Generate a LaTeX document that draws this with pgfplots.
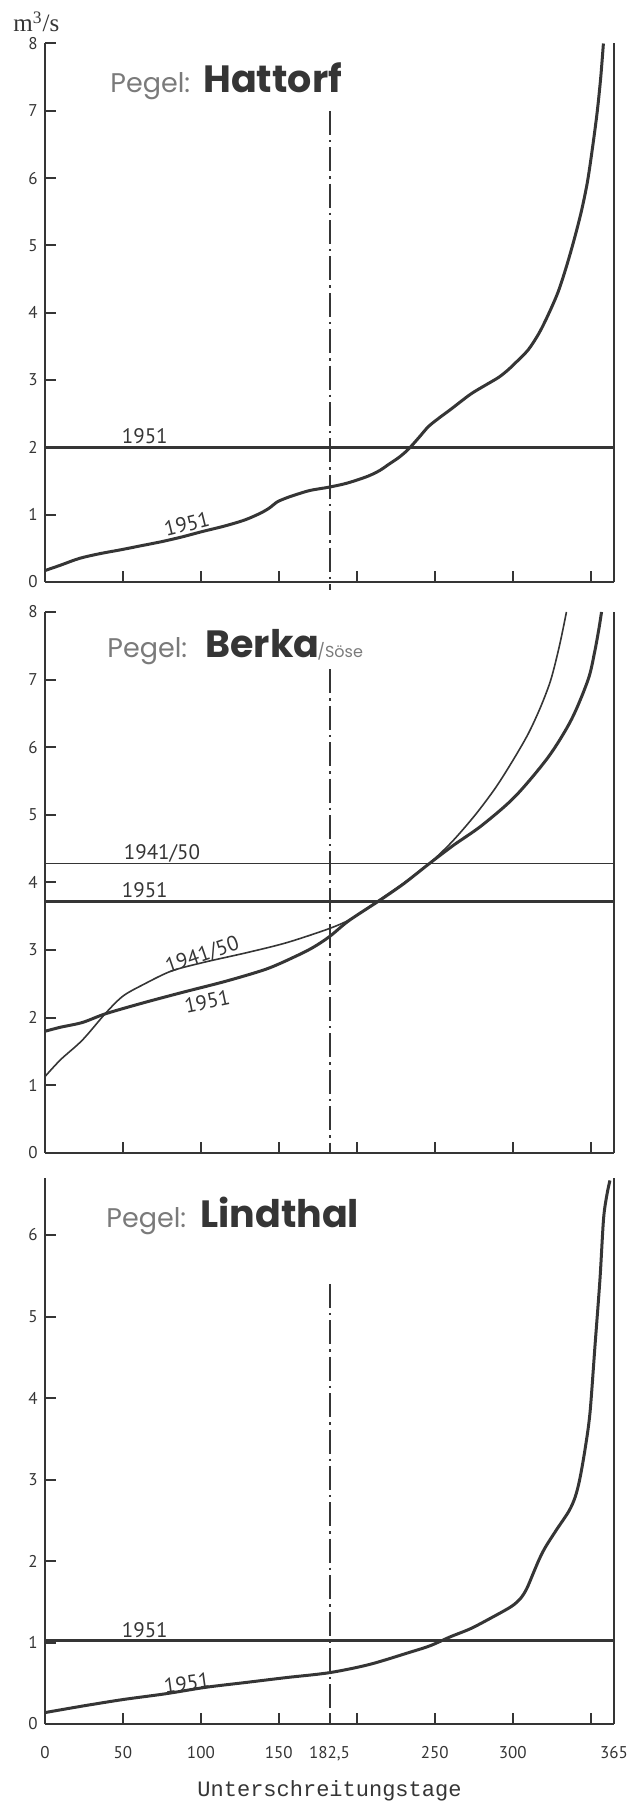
\documentclass[border=0pt]{standalone}
\usepackage{fontspec}
\setmainfont{PT Sans}
\newfontfamily\titlefont{Poppins}
\newfontfamily\letterfont{Liberation Mono}
\newfontfamily\unitfont{Liberation Serif}
\usepackage{pgfplots}
\pgfplotsset{compat=1.18}

\definecolor{ink}{HTML}{353535}
\definecolor{titlegray}{HTML}{7A7A7A}

\tikzset{
  thick curve/.style={ink, line width=1.5pt, smooth, tension=0.5},
  thin curve/.style={ink, line width=0.8pt, smooth, tension=0.5},
  level/.style={ink, line width=1.5pt},
  thin level/.style={ink, line width=0.8pt},
  median/.style={ink, line width=1pt,
    dash pattern=on 12pt off 2.5pt on 1.2pt off 2.5pt},
  frame right/.style={ink, line width=1pt},
}

\pgfplotsset{
  pegel/.style={
    scale only axis, width=284.5pt,
    xmin=0, xmax=365, ymin=0,
    axis x line*=bottom, axis y line*=left,
    axis line style={-, ink, line width=1pt},
    tick align=inside,
    major tick length=5.5pt,
    every tick/.style={ink, line width=1pt},
    xtick={50,100,150,200,250,300,350}, xticklabels={},
    /pgf/number format/assume math mode=true,
    yticklabel style={font=\fontsize{8.5}{10}\selectfont, text=ink,
      inner sep=0pt, anchor=east, xshift=-3.5pt},
    clip=false,
  },
}
\newcommand{\curvelabel}{\fontsize{10.5}{12}\selectfont\color{ink}}

\begin{document}
\begin{tikzpicture}

% ---------------- Pegel Hattorf ----------------
\begin{axis}[pegel, at={(22.5pt,610pt)}, anchor=south west,
  height=269.25pt, ymax=8, ytick={0,1,...,8}]
  \addplot[level] coordinates {(0,2.0) (365,2.0)};
  \addplot[thick curve] coordinates {
    (0,0.17) (10,0.25) (22,0.35) (35,0.42) (49,0.48) (62,0.54)
    (75,0.60) (88,0.67) (101,0.75) (115,0.83) (128,0.92) (138,1.02)
    (144,1.10) (149,1.19) (155,1.25) (160,1.29) (170,1.36) (182.5,1.41)
    (194,1.47) (207,1.57) (215,1.66) (220,1.74) (227,1.85) (233,1.97)
    (240,2.15) (246,2.31) (253,2.44) (260,2.56) (273,2.79) (283,2.93)
    (291,3.04) (297,3.15) (302,3.26) (310,3.45) (317,3.70) (323,3.98)
    (329,4.30) (334,4.65) (339,5.05) (344,5.50) (348,5.95) (351.5,6.50)
    (354.3,7.00) (356.5,7.50) (358.2,8.00)};
  \draw[median] (axis cs:182.5,7.0) -- (axis cs:182.5,-0.12);
  \draw[frame right] (axis cs:365,0) -- (axis cs:365,8);
  \node[font=\curvelabel] at (axis cs:64,2.17) {1951};
  \node[font=\curvelabel, rotate=14] at (axis cs:91,0.86) {1951};
\end{axis}

% ---------------- Pegel Berka / Söse ----------------
\begin{axis}[pegel, at={(22.5pt,324.5pt)}, anchor=south west,
  height=270.5pt, ymax=8, ytick={0,1,...,8}]
  \addplot[thin level] coordinates {(0,4.28) (365,4.28)};
  \addplot[level] coordinates {(0,3.72) (365,3.72)};
  % 1951
  \addplot[thick curve] coordinates {
    (0,1.80) (10,1.86) (24,1.93) (39,2.06) (63,2.22) (89,2.38)
    (116,2.54) (142,2.72) (160,2.90) (172,3.04) (182.5,3.20)
    (194,3.42) (207,3.62) (215,3.74) (230,3.98) (246,4.27)
    (262,4.55) (280,4.84) (301.5,5.27) (323,5.86) (337.7,6.41)
    (348.4,7.00) (352.5,7.40) (355.3,7.75) (357,8.00)};
  % 1941/50
  \addplot[thin curve] coordinates {
    (0,1.13) (10,1.38) (24,1.67) (39,2.07) (50,2.32) (63,2.49)
    (81,2.69) (102,2.82) (129,2.96) (155,3.11) (182.5,3.32)
    (197,3.47) (213,3.72) (230,3.99) (246,4.27) (261,4.60)
    (276,5.00) (289,5.40) (300,5.80) (310,6.20) (318,6.60)
    (324.5,7.00) (330,7.50) (334.5,8.00)};
  \draw[median] (axis cs:182.5,7.15) -- (axis cs:182.5,0);
  \draw[frame right] (axis cs:365,0) -- (axis cs:365,8);
  \node[font=\curvelabel] at (axis cs:75,4.43) {1941/50};
  \node[font=\curvelabel] at (axis cs:64,3.88) {1951};
  \node[font=\curvelabel, rotate=19] at (axis cs:101,2.92) {1941/50};
  \node[font=\curvelabel, rotate=12] at (axis cs:104,2.24) {1951};
\end{axis}

% ---------------- Pegel Lindthal ----------------
\begin{axis}[pegel, at={(22.5pt,39pt)}, anchor=south west,
  height=273pt, ymax=6.7, ytick={0,1,...,6},
  xtick={0,50,100,150,182.5,200,250,300,350,365},
  xticklabels={0,50,100,150,{182,5},,250,300,,365},
  xticklabel style={font=\fontsize{8.5}{10}\selectfont, text=ink,
    inner sep=0pt, anchor=north, yshift=-11pt},
  xlabel={Unterschreitungstage},
  xlabel style={font=\letterfont\fontsize{11}{12}\selectfont, text=ink,
    at={(axis description cs:0.5,0)}, anchor=base, inner sep=0pt,
    yshift=-36pt}]
  \addplot[level] coordinates {(0,1.02) (365,1.02)};
  \addplot[thick curve] coordinates {
    (0,0.14) (24,0.22) (50,0.30) (77,0.37) (103,0.45) (129,0.51)
    (155,0.57) (182.5,0.63) (208,0.73) (234,0.88) (247,0.96)
    (260,1.07) (273,1.17) (286,1.30) (299,1.44) (305,1.54)
    (309,1.66) (313,1.84) (317,2.02) (321,2.17) (328,2.38)
    (336,2.61) (340,2.78) (343,3.00) (346.5,3.38) (349.6,3.82)
    (352.8,4.64) (356,5.46) (358.3,6.20) (360.5,6.50) (362.4,6.67)};
  \draw[median] (axis cs:182.5,5.4) -- (axis cs:182.5,0);
  \draw[frame right] (axis cs:365,0) -- (axis cs:365,6.7);
  \node[font=\curvelabel] at (axis cs:64,1.15) {1951};
  \node[font=\curvelabel, rotate=8] at (axis cs:91,0.50) {1951};
\end{axis}

% unit and station titles
\node[anchor=base west, inner sep=0pt, text=ink,
  font=\unitfont\fontsize{12.5}{14}\selectfont] at (6.5pt,885pt) {m\textsuperscript{3}/s};

\node[anchor=base west, inner sep=0pt, text=titlegray,
  font=\titlefont\fontsize{13.5}{15}\selectfont] at (55pt,854.5pt) {Pegel:};
\node[anchor=base west, inner sep=0pt, text=ink,
  font=\titlefont\bfseries\fontsize{19}{21}\selectfont] at (101.5pt,854.5pt) {Hattorf};

\node[anchor=base west, inner sep=0pt, text=titlegray,
  font=\titlefont\fontsize{13.5}{15}\selectfont] at (53.5pt,572pt) {Pegel:};
\node[anchor=base west, inner sep=0pt, text=ink,
  font=\titlefont\bfseries\fontsize{19}{21}\selectfont] at (102.5pt,572pt) {Berka};
\node[anchor=base west, inner sep=0pt, text=titlegray,
  font=\titlefont\fontsize{8}{9}\selectfont] at (158.5pt,572pt) {/Söse};

\node[anchor=base west, inner sep=0pt, text=titlegray,
  font=\titlefont\fontsize{13.5}{15}\selectfont] at (53pt,287pt) {Pegel:};
\node[anchor=base west, inner sep=0pt, text=ink,
  font=\titlefont\bfseries\fontsize{19}{21}\selectfont] at (100pt,287pt) {Lindthal};

\pgfresetboundingbox
\path[use as bounding box] (0pt,0pt) rectangle (321pt,901pt);
\end{tikzpicture}
\end{document}
